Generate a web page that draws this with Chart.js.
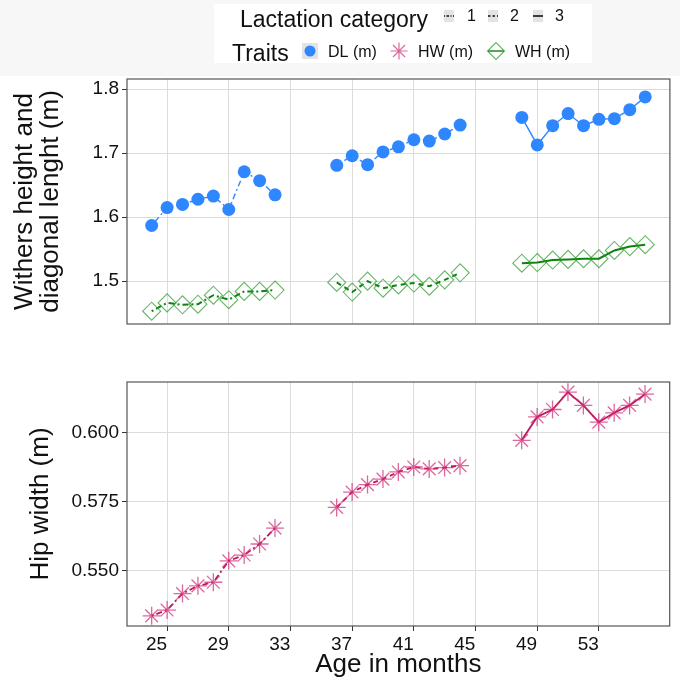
<!DOCTYPE html>
<html>
<head>
<meta charset="utf-8">
<script src="https://cdn.jsdelivr.net/npm/chart.js@4/dist/chart.umd.min.js"></script>
<style>
    html, body { margin: 0; padding: 0; background: #fff; }
    #wrap { position: relative; width: 680px; height: 682px; }
    canvas { position: absolute; left: 0; }
    #chart-top { top: 0; }
    #chart-bottom { top: 340px; }
</style>
</head>
<body>
<div id="wrap">
    <canvas id="chart-top" width="680" height="340"></canvas>
    <canvas id="chart-bottom" width="680" height="342"></canvas>
</div>
<script>
// --- Data ---
const months1 = [24, 25, 26, 27, 28, 29, 30, 31, 32];
const months2 = [36, 37, 38, 39, 40, 41, 42, 43, 44];
const months3 = [48, 49, 50, 51, 52, 53, 54, 55, 56];

const dlCat1 = [1.587, 1.615, 1.620, 1.628, 1.633, 1.612, 1.671, 1.657, 1.635];
const dlCat2 = [1.681, 1.696, 1.682, 1.702, 1.710, 1.721, 1.719, 1.730, 1.744];
const dlCat3 = [1.756, 1.713, 1.743, 1.762, 1.743, 1.753, 1.754, 1.768, 1.788];

const whCat1 = [1.453, 1.466, 1.463, 1.464, 1.478, 1.471, 1.484, 1.484, 1.486];
const whCat2 = [1.498, 1.483, 1.500, 1.489, 1.494, 1.497, 1.492, 1.502, 1.513];
const whCat3 = [1.528, 1.529, 1.533, 1.534, 1.535, 1.535, 1.548, 1.554, 1.557];

const hwCat1 = [0.5335, 0.5356, 0.5416, 0.5444, 0.5457, 0.5535, 0.5556, 0.5596, 0.5654];
const hwCat2 = [0.5729, 0.5785, 0.5812, 0.5832, 0.5858, 0.5876, 0.5869, 0.5874, 0.5881];
const hwCat3 = [0.5973, 0.6058, 0.6085, 0.6148, 0.6100, 0.6039, 0.6073, 0.6100, 0.6141];

const xTicks = [25, 29, 33, 37, 41, 45, 49, 53];
const yTicksTop = [1.5, 1.6, 1.7, 1.8];
const yTicksBottom = [0.550, 0.575, 0.600];

const categories = ['1', '2', '3'];
const traits = ['DL (m)', 'HW (m)', 'WH (m)'];

// --- Styles ---
const FONT = "'Liberation Sans', Arial, sans-serif";
const GRID = '#dcdcdc';
const DASHES = { '1': [2, 3, 6, 3], '2': [5, 4], '3': [] };

const STYLE = {
    'DL (m)': { line: '#2f87ff', point: '#2f87ff', fill: '#2f87ff', shape: 'circle', r: 6.5, lw: 1.4, pw: 0 },
    'HW (m)': { line: '#c0145c', point: 'rgba(205,40,115,0.7)', fill: 'rgba(0,0,0,0)', shape: 'star', r: 9, lw: 1.8, pw: 1.3 },
    'WH (m)': { line: '#0a840a', point: 'rgba(40,150,40,0.7)', fill: 'rgba(0,0,0,0)', shape: 'rectRot', r: 9, lw: 2, pw: 1.1 }
};

function pts(months, values) {
    return months.map((m, i) => ({ x: m, y: values[i] }));
}

function series(trait, cat, months, values) {
    const s = STYLE[trait];
    return {
        label: trait + ' ' + cat,
        data: pts(months, values),
        borderColor: s.line,
        borderWidth: s.lw,
        borderDash: DASHES[cat],
        pointStyle: s.shape,
        pointRadius: s.r,
        pointBackgroundColor: s.fill,
        pointBorderColor: s.point,
        pointBorderWidth: s.pw,
        tension: 0,
        fill: false
    };
}

// panel frame drawn on top, like ggplot's panel.border
const framePlugin = {
    id: 'frame',
    afterDraw(chart) {
        const { ctx, chartArea: a } = chart;
        ctx.save();
        ctx.strokeStyle = '#555';
        ctx.lineWidth = 1.2;
        ctx.strokeRect(a.left, a.top, a.right - a.left, a.bottom - a.top);
        ctx.restore();
    }
};

// legend band at the top of the figure
const legendPlugin = {
    id: 'topLegend',
    beforeDraw(chart) {
        const ctx = chart.ctx;
        ctx.save();
        ctx.fillStyle = '#f7f7f7';
        ctx.fillRect(0, 0, 680, 76);
        ctx.fillStyle = '#fff';
        ctx.fillRect(214, 4, 378, 59);

        ctx.fillStyle = '#111';
        ctx.textBaseline = 'alphabetic';
        ctx.font = '23px ' + FONT;
        ctx.fillText('Lactation category', 240, 27);
        ctx.fillText('Traits', 232, 61);

        // lactation category keys
        const catKeys = [444, 488, 533];
        const catLabels = [467, 510, 555];
        ctx.font = '16px ' + FONT;
        categories.forEach((c, i) => {
            const x = catKeys[i];
            ctx.fillStyle = '#e3e3e3';
            ctx.fillRect(x, 10, 10, 12);
            ctx.strokeStyle = '#111';
            ctx.lineWidth = 1.6;
            ctx.setLineDash(c === '1' ? [1, 1.5, 2.5, 1.5] : c === '2' ? [2.5, 2] : []);
            ctx.beginPath();
            ctx.moveTo(x, 16);
            ctx.lineTo(x + 10, 16);
            ctx.stroke();
            ctx.setLineDash([]);
            ctx.fillStyle = '#111';
            ctx.fillText(c, catLabels[i], 21);
        });

        // trait keys
        ctx.fillStyle = '#e3e3e3';
        ctx.fillRect(302, 43, 16, 16);
        const symX = [310, 399, 496];
        const labX = [328, 418, 515];
        traits.forEach((t, i) => {
            const s = STYLE[t];
            if (t === 'WH (m)') {
                ctx.strokeStyle = s.line;
                ctx.lineWidth = 1.4;
                ctx.beginPath();
                ctx.moveTo(symX[i] - 8, 51);
                ctx.lineTo(symX[i] + 8, 51);
                ctx.stroke();
            }
            ctx.fillStyle = s.fill;
            ctx.strokeStyle = s.point;
            ctx.lineWidth = t === 'DL (m)' ? 0 : 1.2;
            Chart.helpers.drawPoint(ctx, {
                pointStyle: s.shape,
                radius: t === 'DL (m)' ? 5.5 : 8.5,
                borderWidth: t === 'DL (m)' ? 0 : 1.2,
                rotation: 0
            }, symX[i], 51);
            ctx.fillStyle = '#111';
            ctx.font = '16px ' + FONT;
            ctx.fillText(t, labX[i], 57);
        });
        ctx.restore();
    }
};

function xScale(showLabels) {
    return {
        type: 'linear',
        min: 22.4,
        max: 57.6,
        afterBuildTicks: s => { s.ticks = xTicks.map(v => ({ value: v })); },
        afterFit: s => { s.height = showLabels ? 56 : 0; },
        border: { display: false },
        grid: {
            color: GRID,
            lineWidth: 1,
            drawTicks: showLabels,
            tickLength: 5,
            tickColor: '#333'
        },
        ticks: {
            display: showLabels,
            autoSkip: false,
            maxRotation: 0,
            align: 'end',
            padding: 2,
            color: '#111',
            font: { family: FONT, size: 19 }
        },
        title: {
            display: showLabels,
            text: 'Age in months',
            color: '#111',
            font: { family: FONT, size: 26, lineHeight: 1.2 },
            padding: { top: 0, bottom: 2 }
        }
    };
}

function yScale(min, max, ticks, digits, title, titlePad) {
    return {
        type: 'linear',
        min: min,
        max: max,
        afterBuildTicks: s => { s.ticks = ticks.map(v => ({ value: v })); },
        afterFit: s => { s.width = 127; },
        border: { display: false },
        grid: {
            color: GRID,
            lineWidth: 1,
            drawTicks: true,
            tickLength: 5,
            tickColor: '#333'
        },
        ticks: {
            padding: 3,
            color: '#111',
            font: { family: FONT, size: 19 },
            callback: v => Number(v).toFixed(digits)
        },
        title: {
            display: true,
            text: title,
            color: '#111',
            font: { family: FONT, size: 26, lineHeight: 1.0 },
            padding: { top: titlePad, bottom: 0 }
        }
    };
}

const common = {
    responsive: false,
    animation: false,
    devicePixelRatio: 1,
    plugins: { legend: { display: false }, tooltip: { enabled: false } }
};

new Chart(document.getElementById('chart-top'), {
    type: 'line',
    data: {
        datasets: [
            series('DL (m)', '1', months1, dlCat1),
            series('DL (m)', '2', months2, dlCat2),
            series('DL (m)', '3', months3, dlCat3),
            series('WH (m)', '1', months1, whCat1),
            series('WH (m)', '2', months2, whCat2),
            series('WH (m)', '3', months3, whCat3)
        ]
    },
    options: {
        ...common,
        layout: { padding: { top: 79, bottom: 16, left: 0, right: 3 } },
        scales: {
            x: xScale(false),
            y: yScale(1.433, 1.816, yTicksTop, 1, ['Withers height and', 'diagonal lenght (m)'], 12)
        }
    },
    plugins: [legendPlugin, framePlugin]
});

new Chart(document.getElementById('chart-bottom'), {
    type: 'line',
    data: {
        datasets: [
            series('HW (m)', '1', months1, hwCat1),
            series('HW (m)', '2', months2, hwCat2),
            series('HW (m)', '3', months3, hwCat3)
        ]
    },
    options: {
        ...common,
        layout: { padding: { top: 42, bottom: 0, left: 0, right: 3 } },
        scales: {
            x: xScale(true),
            y: yScale(0.5298, 0.6185, yTicksBottom, 3, 'Hip width (m)', 28)
        }
    },
    plugins: [framePlugin]
});
</script>
</body>
</html>
